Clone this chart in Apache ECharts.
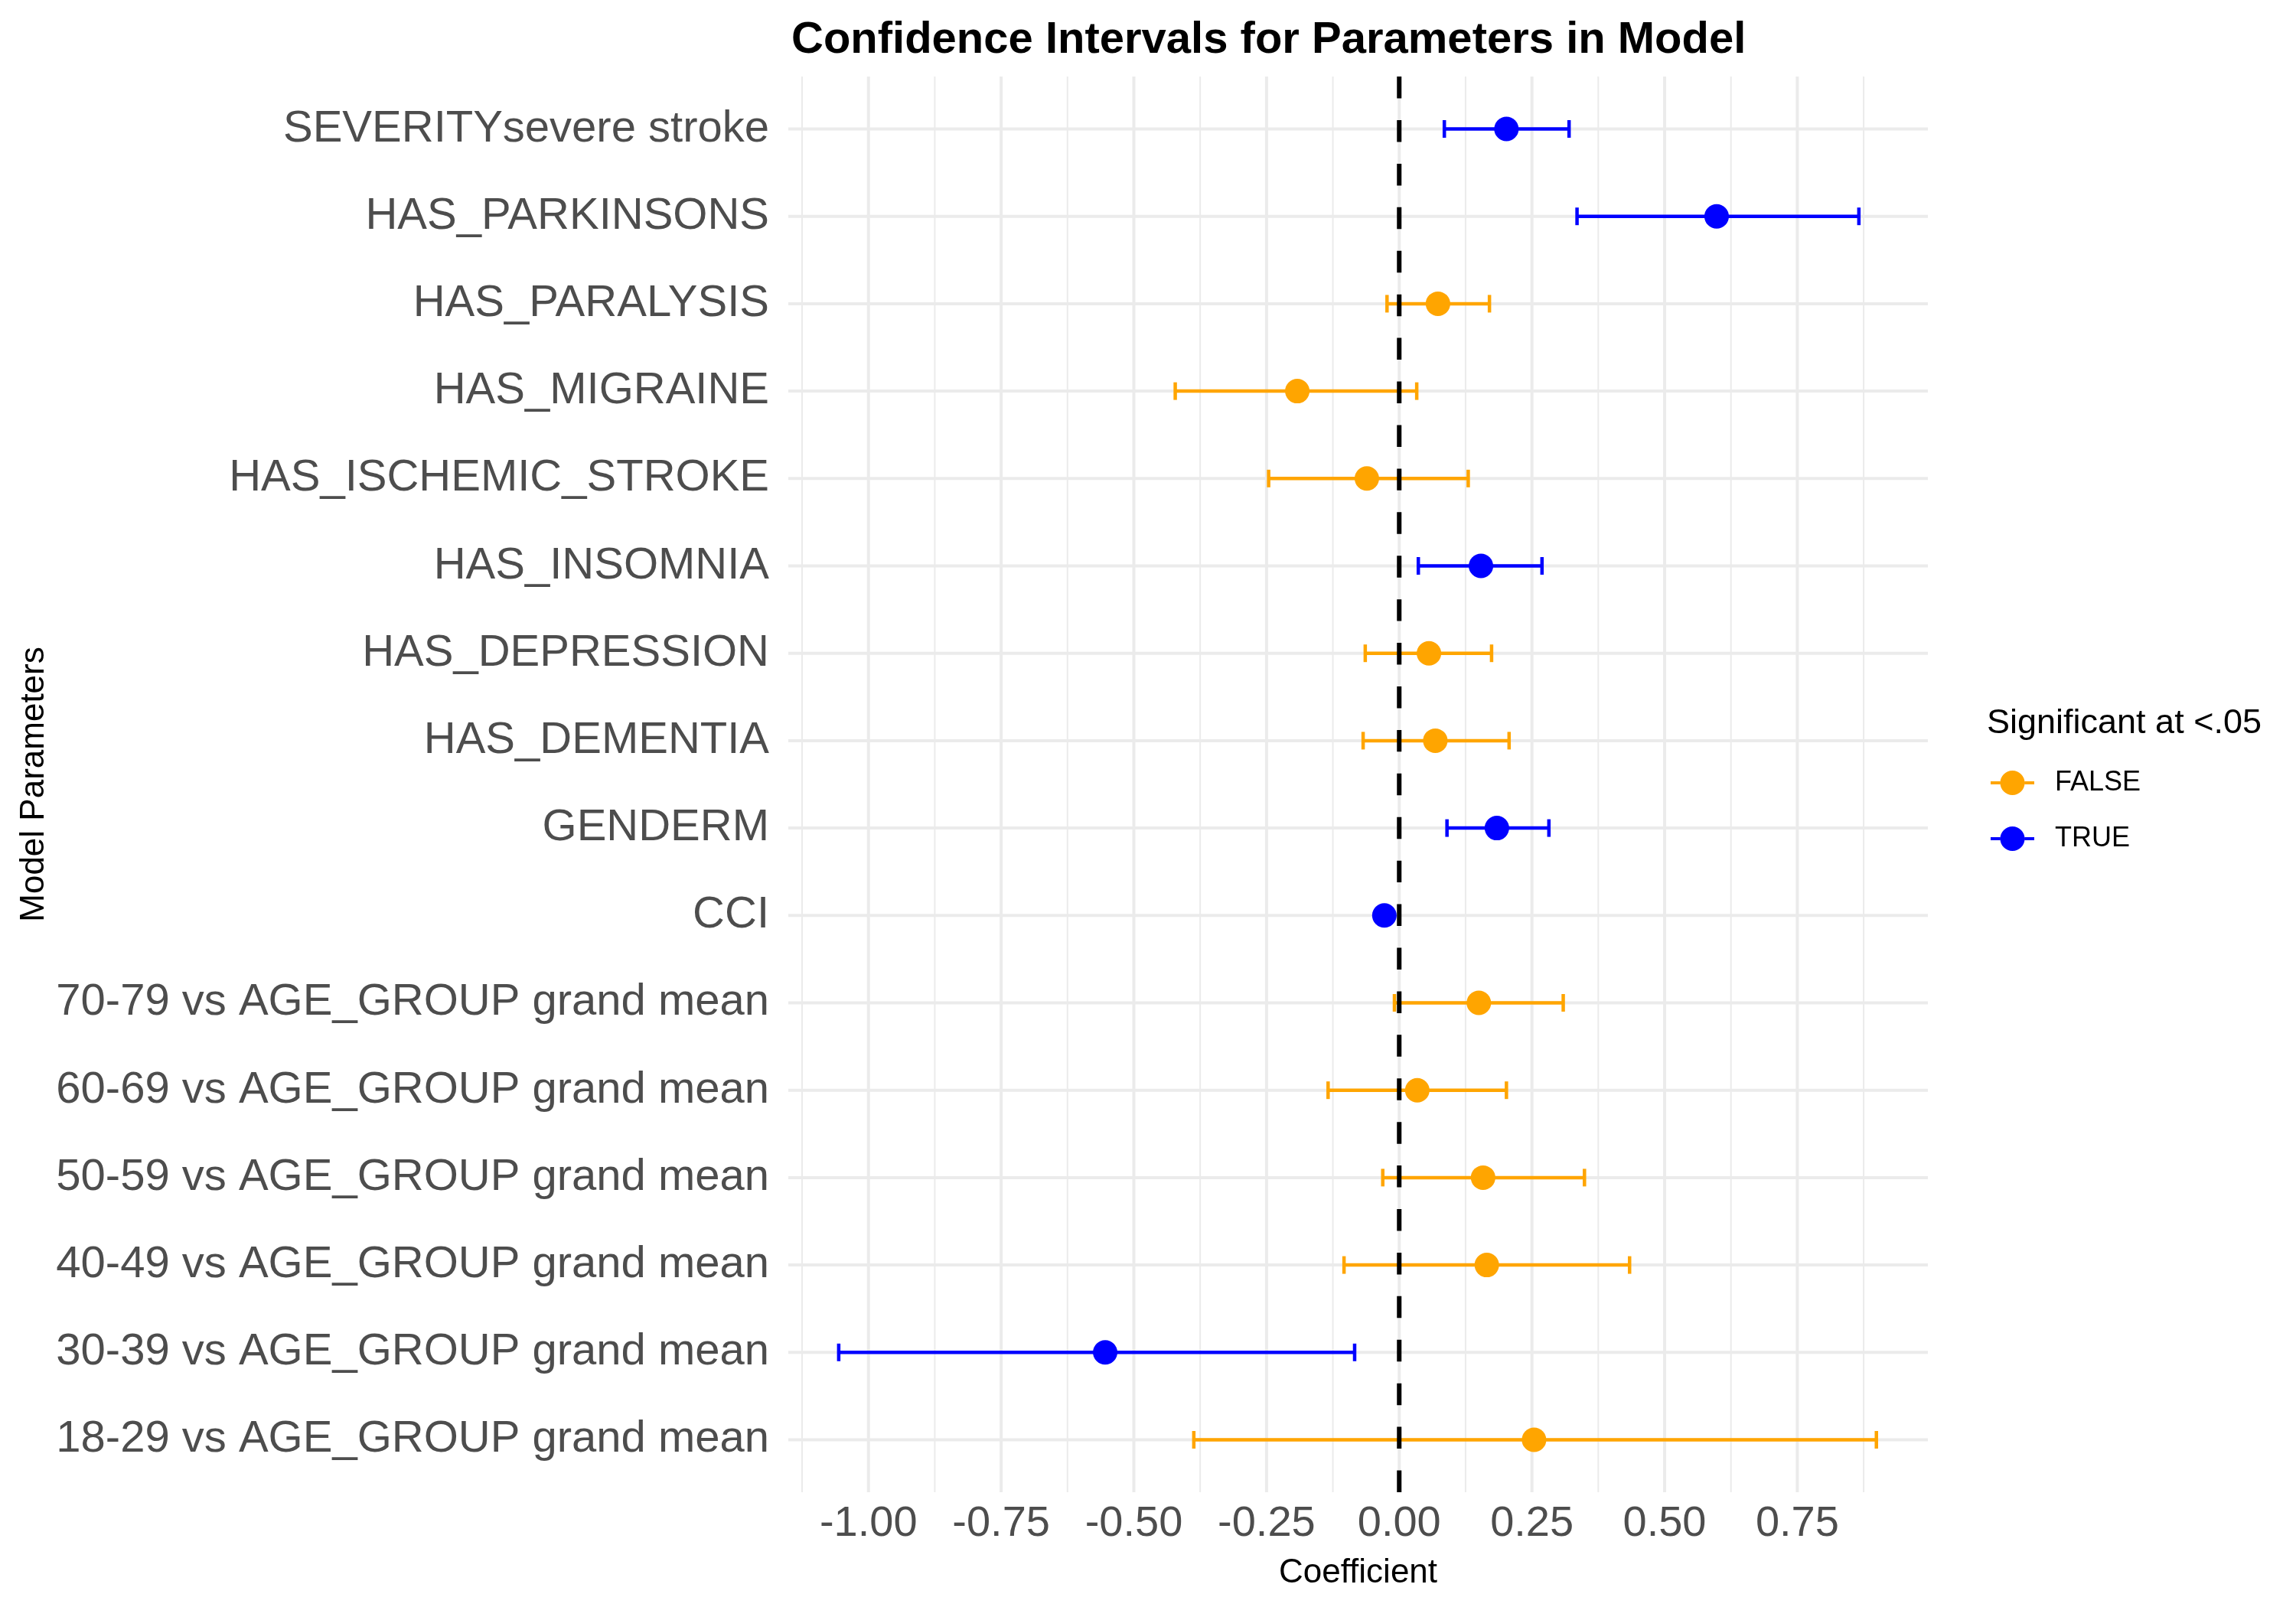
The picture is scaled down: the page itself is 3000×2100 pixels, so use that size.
<!DOCTYPE html>
<html><head><meta charset="utf-8">
<script src="https://cdn.jsdelivr.net/npm/echarts@6/dist/echarts.min.js"></script>
<style>html,body{margin:0;padding:0;background:#fff}#c{width:3000px;height:2100px}</style>
</head><body><div id="c"></div>
<script>
// ---- data (bottom row first) ----
const params = [
  "18-29 vs AGE_GROUP grand mean",
  "30-39 vs AGE_GROUP grand mean",
  "40-49 vs AGE_GROUP grand mean",
  "50-59 vs AGE_GROUP grand mean",
  "60-69 vs AGE_GROUP grand mean",
  "70-79 vs AGE_GROUP grand mean",
  "CCI",
  "GENDERM",
  "HAS_DEMENTIA",
  "HAS_DEPRESSION",
  "HAS_INSOMNIA",
  "HAS_ISCHEMIC_STROKE",
  "HAS_MIGRAINE",
  "HAS_PARALYSIS",
  "HAS_PARKINSONS",
  "SEVERITYsevere stroke"
];
const estimate = [0.254, -0.554, 0.165, 0.158, 0.034, 0.150, -0.028, 0.184, 0.068, 0.056, 0.154, -0.061, -0.192, 0.073, 0.598, 0.202];
const lower    = [-0.387, -1.056, -0.104, -0.031, -0.134, -0.009, -0.034, 0.090, -0.068, -0.064, 0.036, -0.246, -0.422, -0.023, 0.335, 0.085];
const upper    = [0.899, -0.084, 0.434, 0.349, 0.202, 0.309, -0.021, 0.282, 0.207, 0.174, 0.269, 0.130, 0.033, 0.170, 0.866, 0.320];
const significant = [false, true, false, false, false, false, true, true, false, false, true, false, false, false, true, true];
const groups = ["FALSE", "TRUE"];
const groupColors = ["#FFA500", "#0000FF"];
const xTicks = [-1, -0.75, -0.5, -0.25, 0, 0.25, 0.5, 0.75];
const xMinorTicks = [-1.125, -0.875, -0.625, -0.375, -0.125, 0.125, 0.375, 0.625, 0.875];
const refLine = [0];

// ---- layout/style ----
const X_MIN = -1.151, X_MAX = 0.996;
const Y_MIN = -0.6, Y_MAX = params.length - 1 + 0.6;
const FONT = '"Liberation Sans", Arial, Helvetica, sans-serif';
const GRID = '#EBEBEB';

function vLine(width, color, dash) {
  return function (p, api) {
    const x = api.value(0);
    const a = api.coord([x, Y_MIN]), b = api.coord([x, Y_MAX]);
    return {type: 'line', shape: {x1: a[0], y1: a[1], x2: b[0], y2: b[1]},
      style: {stroke: color, lineWidth: width, lineDash: dash || null}};
  };
}
function hLine(width, color) {
  return function (p, api) {
    const y = api.value(1);
    const a = api.coord([X_MIN, y]), b = api.coord([X_MAX, y]);
    return {type: 'line', shape: {x1: a[0], y1: a[1], x2: b[0], y2: b[1]},
      style: {stroke: color, lineWidth: width}};
  };
}
function errBar(color) {
  return function (p, api) {
    const lo = api.coord([api.value(0), api.value(2)]);
    const hi = api.coord([api.value(1), api.value(2)]);
    const h = 11.5, w = 4.5;
    return {type: 'group', children: [
      {type: 'line', shape: {x1: lo[0], y1: lo[1], x2: hi[0], y2: hi[1]}, style: {stroke: color, lineWidth: w}},
      {type: 'line', shape: {x1: lo[0], y1: lo[1] - h, x2: lo[0], y2: lo[1] + h}, style: {stroke: color, lineWidth: w}},
      {type: 'line', shape: {x1: hi[0], y1: hi[1] - h, x2: hi[0], y2: hi[1] + h}, style: {stroke: color, lineWidth: w}}
    ]};
  };
}

const series = [
  {type: 'custom', name: 'minorGrid', silent: true, z: 1, renderItem: vLine(2, GRID),
   encode: {x: 0, y: 1}, data: xMinorTicks.map(v => [v, 0])},
  {type: 'custom', name: 'majorGrid', silent: true, z: 1, renderItem: vLine(4, GRID),
   encode: {x: 0, y: 1}, data: xTicks.map(v => [v, 0])},
  {type: 'custom', name: 'rowGrid', silent: true, z: 1, renderItem: hLine(4, GRID),
   encode: {x: 0, y: 1}, data: params.map((_, i) => [0, i])}
];
groups.forEach((g, gi) => {
  const flag = g === 'TRUE';
  const rows = params.map((_, i) => i).filter(i => significant[i] === flag);
  series.push({type: 'custom', name: g, z: 2, renderItem: errBar(groupColors[gi]),
    itemStyle: {color: groupColors[gi]},
    encode: {x: [0, 1], y: 2}, data: rows.map(i => [lower[i], upper[i], i])});
});
series.push({type: 'custom', name: 'zeroLine', silent: true, z: 3,
  renderItem: vLine(6, '#000000', [28.46, 28.46]), encode: {x: 0, y: 1}, data: refLine.map(v => [v, 0])});
groups.forEach((g, gi) => {
  const flag = g === 'TRUE';
  const rows = params.map((_, i) => i).filter(i => significant[i] === flag);
  series.push({type: 'scatter', name: g, z: 4, symbol: 'circle', symbolSize: 32,
    itemStyle: {color: groupColors[gi], opacity: 1},
    data: rows.map(i => [estimate[i], i])});
});

const legendIcon = 'path://M0,14L12.5,14L12.5,18L0,18Z M44.5,14L57,14L57,18L44.5,18Z M12.5,16A16,16 0 1 1 44.5,16A16,16 0 1 1 12.5,16Z';

const option = {
  animation: false,
  backgroundColor: '#FFFFFF',
  textStyle: {fontFamily: FONT},
  title: [
    {text: 'Confidence Intervals for Parameters in Model', left: 1029, top: 19,
     textStyle: {fontFamily: FONT, fontSize: 58, fontWeight: 'bold', color: '#000000'}},
    {text: 'Significant at <.05', left: 2591, top: 918,
     textStyle: {fontFamily: FONT, fontSize: 45, fontWeight: 'normal', color: '#000000'}}
  ],
  legend: {
    orient: 'vertical', left: 2596, top: 1000, itemWidth: 57, itemHeight: 32, itemGap: 37,
    data: groups.map((g, gi) => ({name: g, icon: legendIcon, itemStyle: {color: groupColors[gi]}})),
    textStyle: {fontFamily: FONT, fontSize: 36, color: '#000000', padding: [0, 0, 0, 22]}
  },
  grid: {left: 1030, right: 481, top: 100, bottom: 150, containLabel: false},
  xAxis: {
    type: 'value', min: X_MIN, max: X_MAX,
    name: 'Coefficient', nameLocation: 'middle', nameGap: 84,
    nameTextStyle: {fontFamily: FONT, fontSize: 44, color: '#000000'},
    axisLine: {show: false}, axisTick: {show: false}, splitLine: {show: false},
    axisLabel: {customValues: xTicks, formatter: v => Number(v).toFixed(2),
      fontFamily: FONT, fontSize: 56, color: '#4D4D4D', margin: 14}
  },
  yAxis: {
    type: 'value', min: Y_MIN, max: Y_MAX,
    name: 'Model Parameters', nameLocation: 'middle', nameRotate: 90, nameGap: 963,
    nameTextStyle: {fontFamily: FONT, fontSize: 44, color: '#000000'},
    axisLine: {show: false}, axisTick: {show: false}, splitLine: {show: false},
    axisLabel: {customValues: params.map((_, i) => i), formatter: v => params[Math.round(v)] || '',
      fontFamily: FONT, fontSize: 58, color: '#4D4D4D', margin: 25}
  },
  series: series
};
const chart = echarts.init(document.getElementById('c'), null, {renderer: 'canvas'});
chart.setOption(option);
</script></body></html>
